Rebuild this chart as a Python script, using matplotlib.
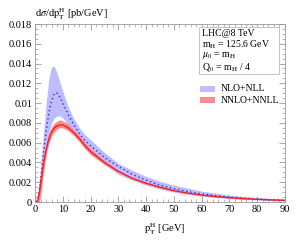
import matplotlib
matplotlib.use("Agg")
import matplotlib.pyplot as plt
from matplotlib.patches import Rectangle
from matplotlib.ticker import MultipleLocator, FixedLocator

plt.rcParams['font.family'] = ['Liberation Serif', 'DejaVu Serif']
plt.rcParams['mathtext.fontset'] = 'stix'

# pT grid [GeV]
pt = [0.6, 1, 1.5, 2, 3, 4, 5, 6, 7, 8, 9, 10, 12, 14, 16, 18, 20, 25, 30, 35,
      40, 45, 50, 55, 60, 65, 70, 75, 80, 85, 90]

# NLO+NLL
nlo_c = [0.0, 0.0003, 0.0010, 0.0022, 0.0048, 0.0072, 0.0090, 0.0103, 0.0110, 0.0110,
         0.0106, 0.0100, 0.0088, 0.0078, 0.0069, 0.0062, 0.0057, 0.0045, 0.0036, 0.0028,
         0.0022, 0.0017, 0.00135, 0.00105, 0.00082, 0.00064, 0.0005, 0.00039, 0.0003,
         0.00023, 0.00018]
nlo_hi = [0.0, 0.0006, 0.0018, 0.0035, 0.0068, 0.0100, 0.0125, 0.0137, 0.0137, 0.0130,
          0.0121, 0.0112, 0.0096, 0.0084, 0.0075, 0.0068, 0.0063, 0.0050, 0.0039, 0.0032,
          0.0026, 0.0021, 0.0017, 0.0014, 0.0011, 0.0009, 0.0007, 0.00056, 0.00044,
          0.00035, 0.00028]
nlo_lo = [0.0, 0.0, 0.0, 0.0010, 0.0032, 0.0053, 0.0069, 0.0080, 0.0085, 0.0087,
          0.0087, 0.0085, 0.0078, 0.0070, 0.0062, 0.0055, 0.0050, 0.0038, 0.0028, 0.0022,
          0.0017, 0.0013, 0.0010, 0.00078, 0.0006, 0.00046, 0.00035, 0.00027, 0.0002,
          0.00015, 0.00011]

# NNLO+NNLL
nnlo_c = [0.0, 0.0002, 0.0008, 0.0018, 0.0037, 0.0053, 0.0064, 0.0071, 0.0075, 0.0077,
          0.0078, 0.0078, 0.0075, 0.0070, 0.0064, 0.0057, 0.0051, 0.0040, 0.0031, 0.0024,
          0.0019, 0.0015, 0.00115, 0.0009, 0.0007, 0.00055, 0.00043, 0.00034, 0.00027,
          0.00021, 0.00017]
nnlo_hi = [0.0, 0.0006, 0.0014, 0.0025, 0.0043, 0.0058, 0.0069, 0.0076, 0.0080, 0.0082,
           0.0083, 0.0082, 0.0079, 0.0073, 0.0067, 0.0060, 0.0054, 0.0042, 0.0032, 0.0025,
           0.0020, 0.00158, 0.00121, 0.00095, 0.00074, 0.00058, 0.00045, 0.00036, 0.00028,
           0.00022, 0.00018]
nnlo_lo = [0.0, 0.0, 0.0, 0.0004, 0.0028, 0.0047, 0.0059, 0.0067, 0.0071, 0.0074,
           0.0075, 0.0075, 0.0072, 0.0067, 0.0061, 0.0054, 0.0048, 0.0038, 0.0030, 0.0023,
           0.0018, 0.00143, 0.0011, 0.00086, 0.00067, 0.00052, 0.00041, 0.00032, 0.00026,
           0.0002, 0.00016]

yticks = [0, 0.002, 0.004, 0.006, 0.008, 0.01, 0.012, 0.014, 0.016, 0.018]
ylabels = ["0", "0.002", "0.004", "0.006", "0.008", "0.01", "0.012", "0.014", "0.016", "0.018"]
xticks = [0, 10, 20, 30, 40, 50, 60, 70, 80, 90]

info_lines = ["LHC@8 TeV",
              r"m$_{\rm H}$ = 125.6 GeV",
              r"$\mu_0$ = m$_{\rm H}$",
              r"Q$_0$ = m$_{\rm H}$ / 4"]
series_names = ["NLO+NLL", "NNLO+NNLL"]
band_colors = ['#bcbcff', '#ff8a8a']

fig = plt.figure(figsize=(3.03, 2.45), dpi=100)
ax = fig.add_axes([35 / 303, 43 / 245, 250 / 303, 178 / 245])

ax.fill_between(pt, nlo_lo, nlo_hi, color=band_colors[0], lw=0)
ax.fill_between(pt, nnlo_lo, nnlo_hi, color=band_colors[1], lw=0)
ax.plot(pt, nlo_c, color='#2a2aff', ls=(0, (1, 2)), lw=1.0)
ax.plot(pt, nnlo_c, color='#ff1a1a', lw=1.0)

ax.set_xlim(0, 90)
ax.set_ylim(0, 0.018)
ax.xaxis.set_major_locator(FixedLocator(xticks))
ax.xaxis.set_minor_locator(MultipleLocator(2))
ax.yaxis.set_major_locator(FixedLocator(yticks))
ax.set_yticklabels(ylabels)
ax.yaxis.set_minor_locator(MultipleLocator(0.0005))
ax.tick_params(which='both', direction='in', top=True, right=True,
               color='#999999', labelsize=7.5, pad=2)
ax.tick_params(which='major', length=4, width=0.6)
ax.tick_params(which='minor', length=2, width=0.5)
for s in ax.spines.values():
    s.set_color('#999999')
    s.set_linewidth(0.6)

fig.text(35 / 303, 1 - 14 / 245, r'd$\sigma$/d$\mathrm{p}_{\rm T}^{\rm H}$ [pb/GeV]',
         fontsize=7.5, ha='left', va='center')
fig.text(165 / 303, 1 - 229 / 245, r'$\mathrm{p}_{\rm T}^{\rm H}$ [GeV]',
         fontsize=7.5, ha='center', va='center')

# info box
ax.add_patch(Rectangle((0.656, 0.719), 0.32, 0.264, transform=ax.transAxes,
                       fc='white', ec='#bbbbbb', lw=0.6, zorder=4))
for yy, line in zip([0.949, 0.884, 0.822, 0.758], info_lines):
    ax.text(0.668, yy, line, transform=ax.transAxes, fontsize=7, ha='left',
            va='center', zorder=5)

# legend
for yy, name, col in zip([0.635, 0.573], series_names, band_colors):
    ax.add_patch(Rectangle((0.66, yy - 0.015), 0.06, 0.03, transform=ax.transAxes,
                           fc=col, ec='none', zorder=4))
    ax.text(0.742, yy, name, transform=ax.transAxes, fontsize=7, ha='left',
            va='center', zorder=5)

fig.savefig('out.png', dpi=100)
